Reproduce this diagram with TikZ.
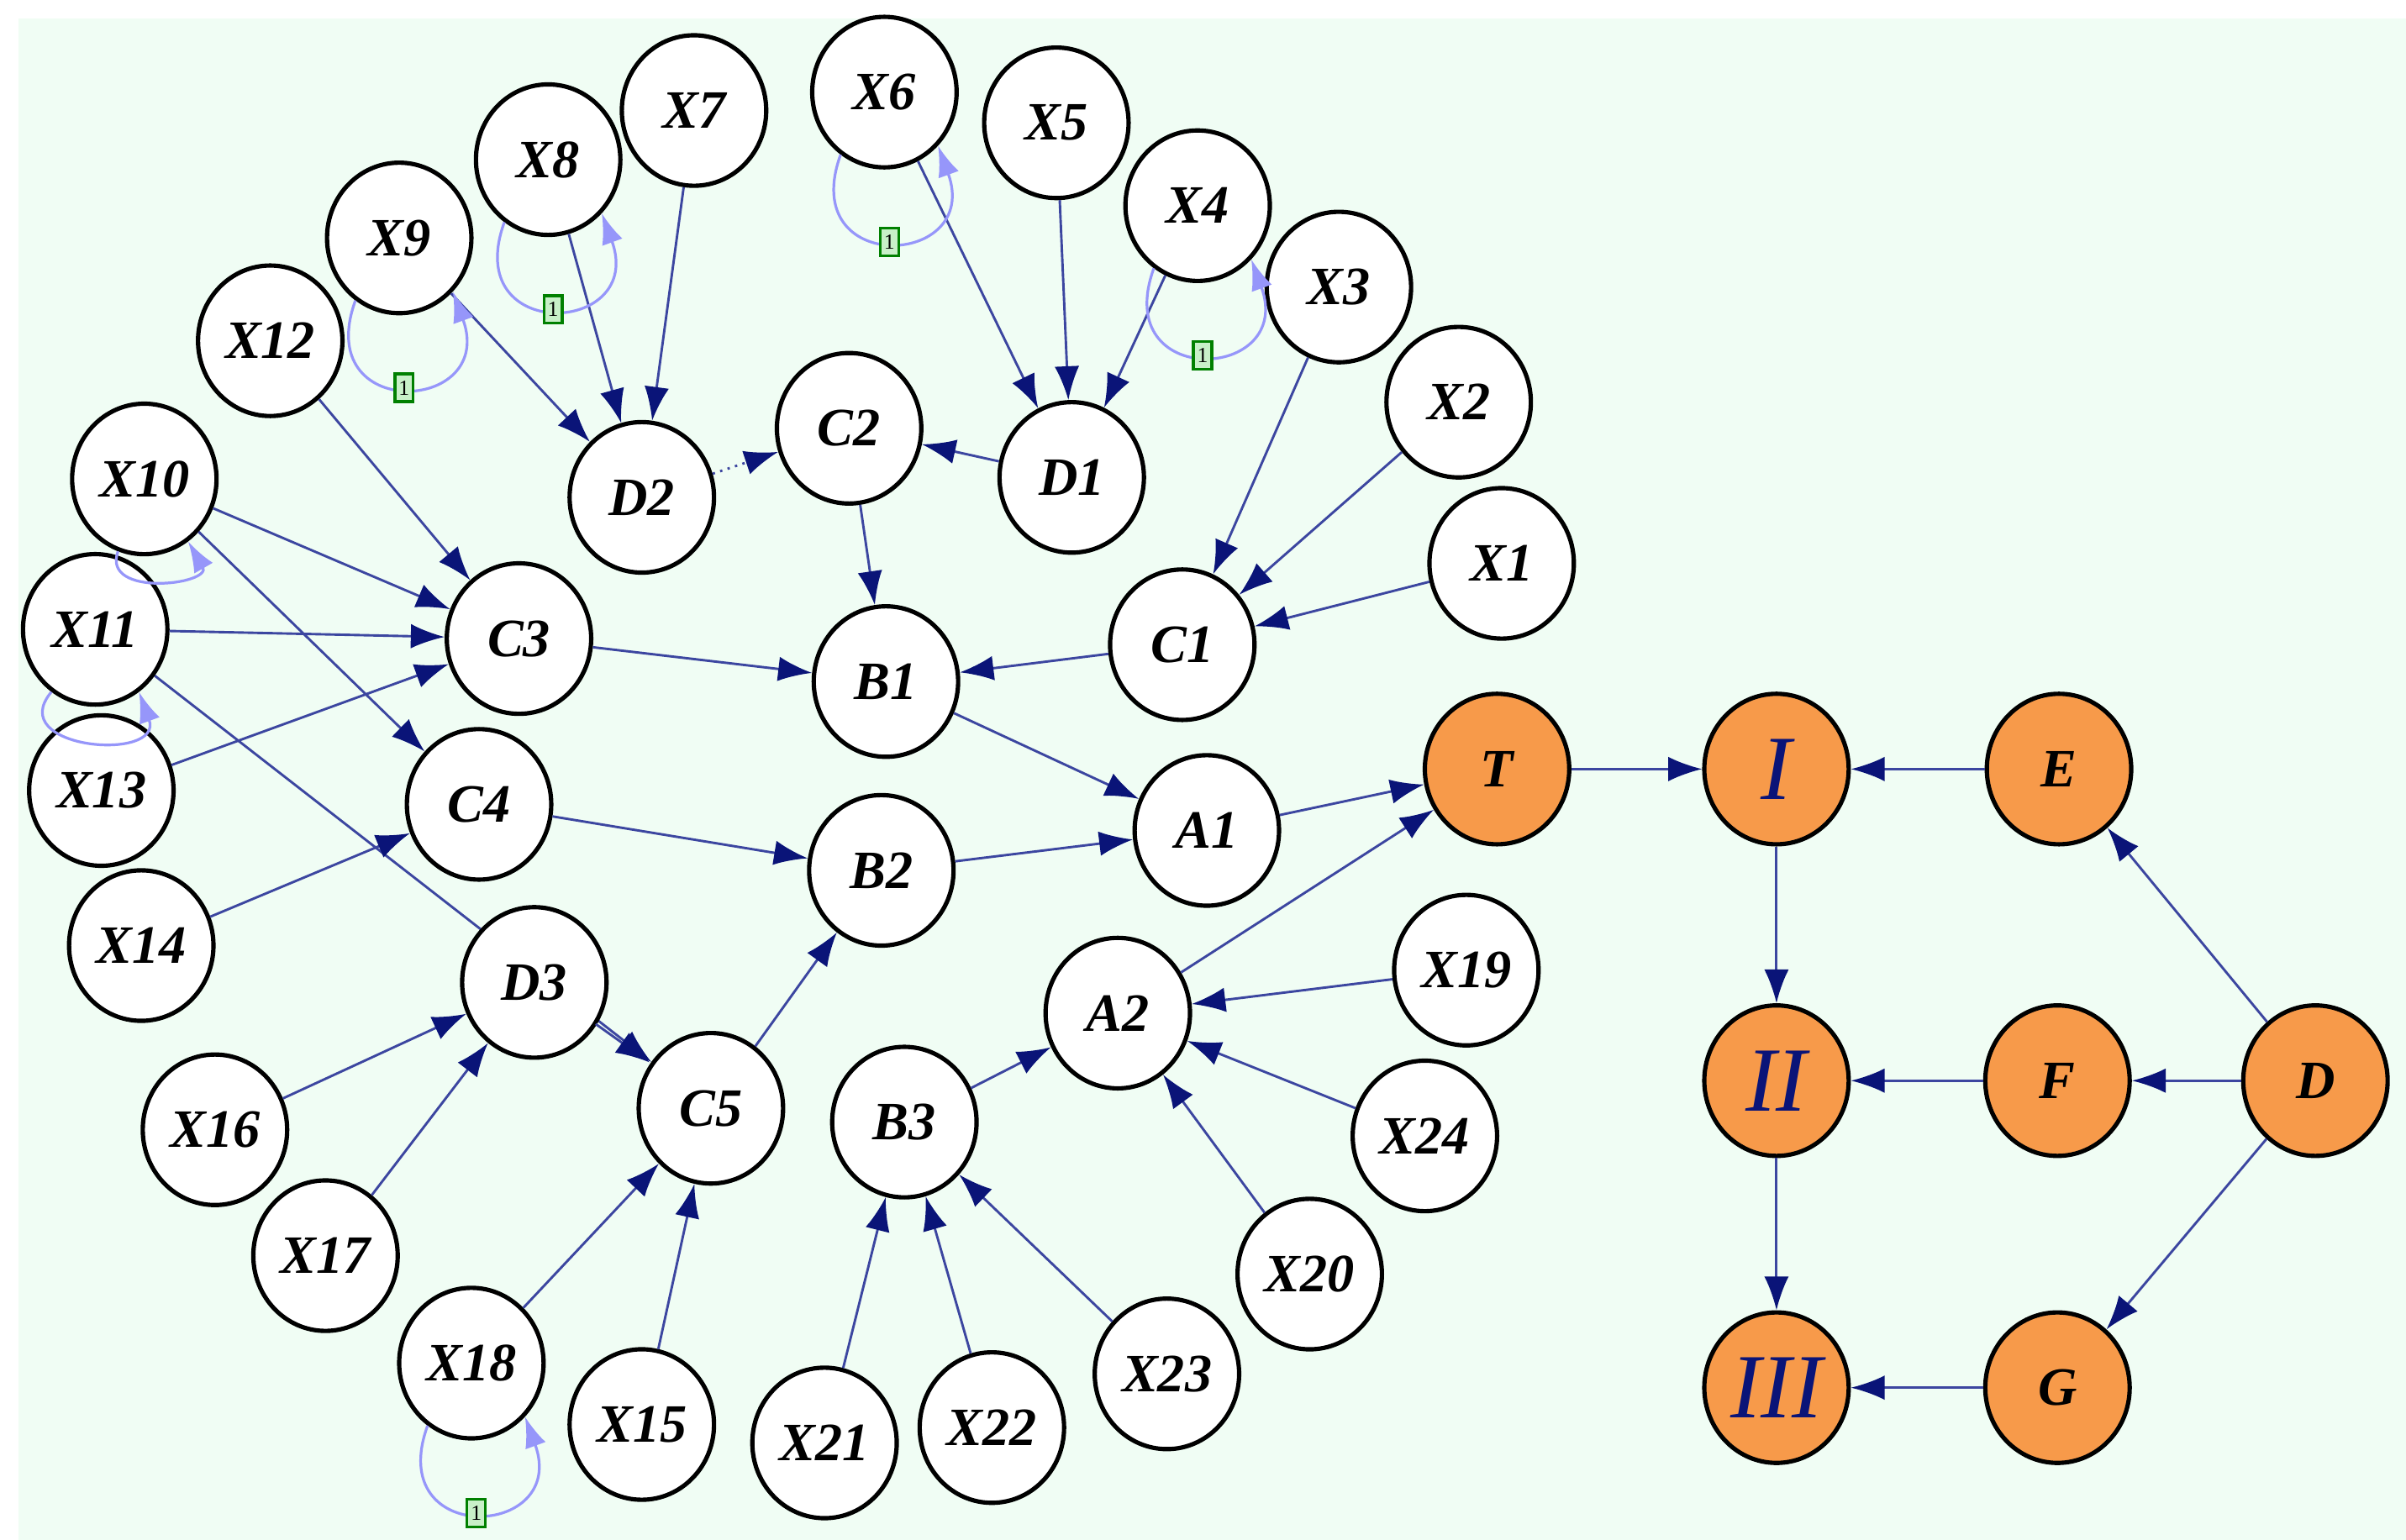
\documentclass[tikz,border=0pt]{standalone}
\usepackage{fontspec}
\setmainfont{Liberation Serif}
\usetikzlibrary{arrows.meta,shapes.geometric}
\definecolor{bgg}{RGB}{240,253,244}
\definecolor{edg}{RGB}{60,70,160}
\definecolor{tipc}{RGB}{10,20,120}
\definecolor{lpc}{RGB}{150,150,250}
\definecolor{org}{RGB}{247,154,74}
\definecolor{boxg}{RGB}{200,240,200}
\pgfdeclarelayer{bot}
\pgfdeclarelayer{mid}
\pgfsetlayers{bot,mid,main}
\tikzset{
  nd/.style={ellipse,draw=black,thick,fill=white,minimum width=0.94cm,minimum height=0.98cm,inner sep=0pt,font=\bfseries\itshape\fontsize{10}{10}\selectfont},
  on/.style={nd,fill=org},
  rom/.style={on,font=\itshape\fontsize{17}{17}\selectfont,text=tipc},
  ed/.style={draw=edg,line width=0.45pt,-{Latex[length=2.2mm,width=1.6mm,color=tipc]}},
  lp/.style={draw=lpc,line width=0.5pt,-{Latex[length=2mm,width=1.4mm]}},
  one/.style={draw=green!50!black,fill=boxg,inner sep=0.6pt,font=\fontsize{4}{4}\selectfont,minimum width=1.2mm,minimum height=1.8mm}
}
\begin{document}
\begin{tikzpicture}[x=0.01cm,y=-0.01cm]
\begin{pgfonlayer}{bot}
\fill[white] (0,0) rectangle (1567,1003);
\fill[bgg] (12,12) rectangle (1567,1003);
\end{pgfonlayer}
\useasboundingbox (0,0) rectangle (1567,1003);
% nodes
\foreach \n/\x/\y in {X7/452/72,X8/357/104,X6/576/60,X5/688/80,X4/780/134,X3/872/187,X2/950/262,X1/978/367,X9/260/155,X12/176/222,X10/94/312,X11/62/410,X13/66/515,X14/92/616,D2/418/324,C2/553/279,D1/698/311,C3/338/416,C1/770/420,B1/577/444,C4/312/524,B2/574/567,A1/786/541,D3/348/640,C5/463/722,B3/589/731,A2/728/660,X19/955/632,X24/928/740,X20/853/830,X16/140/736,X17/212/818,X18/307/888,X15/418/928,X21/537/940,X22/646/930,X23/760/895}
  \node[nd] (\n) at (\x,\y) {\n};
\node[on] (T) at (975,501) {T};
\node[on] (E) at (1341,501) {E};
\node[on] (F) at (1340,704) {F};
\node[on] (D) at (1508,704) {D};
\node[on] (G) at (1340,904) {G};
\node[rom] (R1) at (1157,501) {I};
\node[rom] (R2) at (1157,704) {II};
\node[rom] (R3) at (1157,904) {III};
% edges
\foreach \a/\b in {X7/D2,X8/D2,X9/D2,D1/C2,X6/D1,X5/D1,X4/D1,X3/C1,X2/C1,X1/C1,X12/C3,X10/C3,X11/C3,X13/C3,X10/C4,C3/B1,C2/B1,C1/B1,B1/A1,C4/B2,X14/C4,B2/A1,A1/T,A2/T,C5/B2,X16/D3,X17/D3,X18/C5,X15/C5,X21/B3,X22/B3,X23/B3,B3/A2,X19/A2,X24/A2,X20/A2,T/R1,E/R1,R1/R2,R2/R3,F/R2,D/F,D/E,D/G,G/R3}
  \draw[ed] (\a) -- (\b);
\draw[ed,densely dotted] (D2) -- (C2);
\draw[ed,transform canvas={yshift=0.4pt}] (D3) -- (C5);
\begin{pgfonlayer}{mid}
\draw[ed] (X11) -- (C5);
\end{pgfonlayer}
% self loops
\draw[lp] (X9.235) to[out=250,in=-70,looseness=3.4] node[pos=0.5,one]{1} (X9.-45);
\draw[lp] (X8.235) to[out=250,in=-70,looseness=3.4] node[pos=0.5,one]{1} (X8.-45);
\draw[lp] (X6.235) to[out=250,in=-70,looseness=3.4] node[pos=0.5,one]{1} (X6.-45);
\draw[lp] (X4.235) to[out=250,in=-70,looseness=3.4] node[pos=0.5,one]{1} (X4.-45);
\draw[lp] (X18.235) to[out=250,in=-70,looseness=3.4] node[pos=0.5,one]{1} (X18.-45);
\draw[lp] (X10.250) to[out=250,in=-60,looseness=1.8] (X10.-55);
\draw[lp] (X11.235) to[out=230,in=-70,looseness=2.2] (X11.-55);
\end{tikzpicture}
\end{document}
